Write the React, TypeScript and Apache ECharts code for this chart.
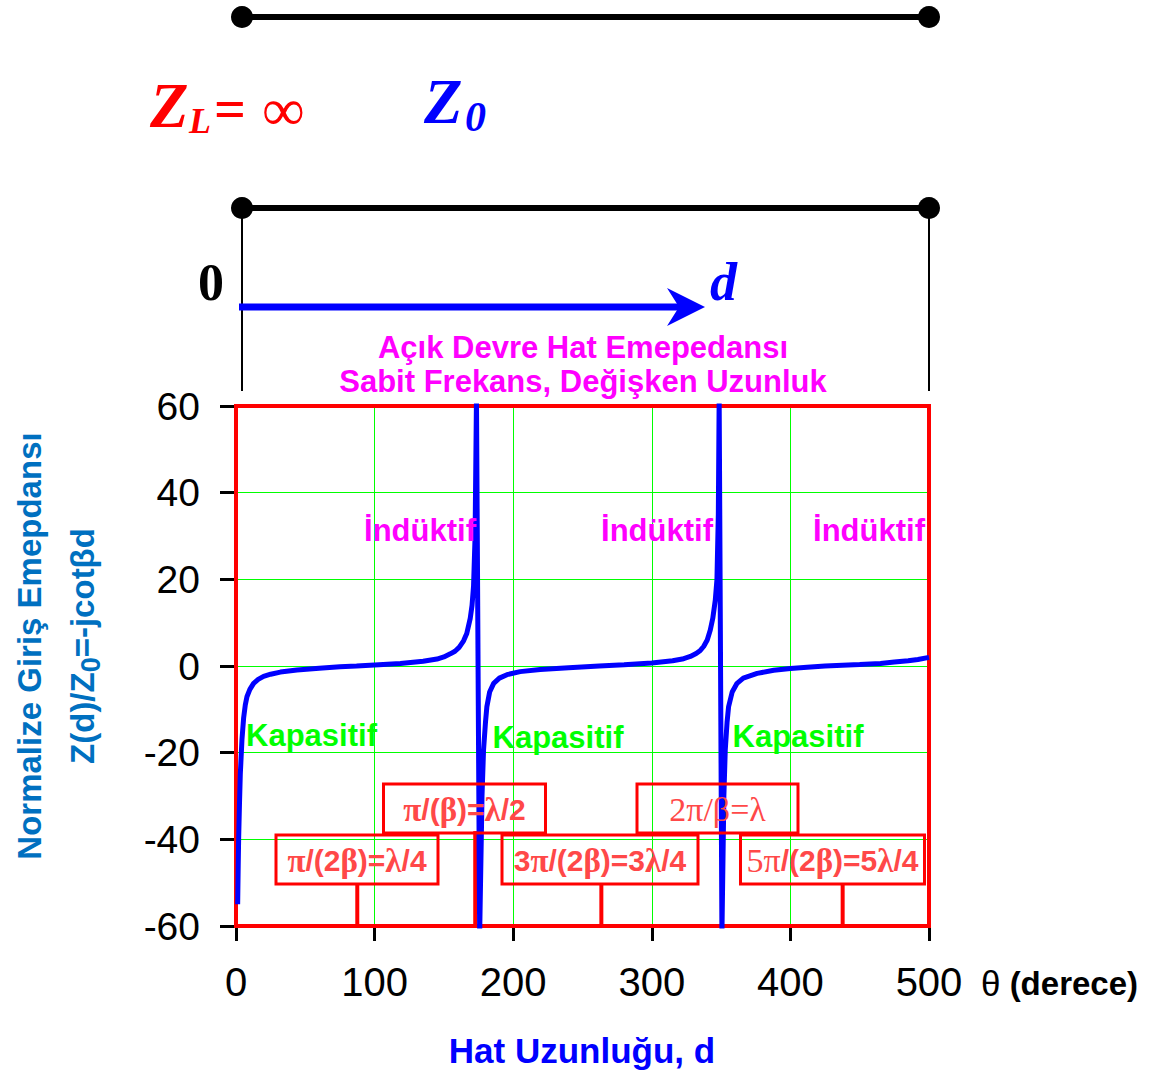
import React, { useEffect, useRef } from "react";
import * as echarts from "echarts";

// ---- data ----
const curveTheta = [
  1.2, 1.6, 1.9, 2.5, 3.1, 4.3, 5.5, 6.7, 7.9, 10, 12.7, 16, 19.9, 25, 32, 44, 60, 75, 87, 100,
  118.6, 135, 145, 150, 154.6, 158, 161, 164.2, 166.5, 169, 170.3, 171.4, 172.5, 173.5,
  175.8, 177.5, 178.6, 180, 181, 183, 185.9, 190, 195.5, 205, 219.5, 240, 262, 280, 300, 315,
  322, 327.8, 332, 335, 337.4, 340, 342.2, 344, 345.8, 347, 348, 348.6,
  350.6, 352, 353, 354.3, 355.4, 358, 361.5, 366, 376, 388, 400, 412, 425, 450, 465, 475, 485,
  492, 500,
];
const curveImpedance = [
  -55, -46, -40, -32, -25, -17, -12, -9, -7.1, -5.4, -4, -3.1, -2.4, -1.9, -1.4, -0.9, -0.5, -0.2, 0, 0.25,
  0.6, 1.1, 1.6, 2.1, 2.8, 3.4, 4.3, 5.8, 7.5, 11, 14, 18.5, 30, 62,
  -62, -30, -19.4, -13, -9.4, -6, -4, -2.8, -2, -1.3, -0.8, -0.4, 0, 0.3, 0.7, 1.2,
  1.6, 2.2, 2.9, 3.6, 4.5, 6, 8.3, 11, 15.2, 19.9, 35, 62,
  -62, -30, -19.4, -13, -9.4, -6, -4, -2.8, -1.7, -1, -0.6, -0.3, 0, 0.35, 0.6, 0.9, 1.2,
  1.5, 2.0,
];
// vertical marker lines at quarter-wavelength points (theta, top value)
const markerTheta = [87.5, 172.6, 263.6, 350.6, 437.7];
const markerTop = [-50.3, -38.1, -50.3, -40, -50.3];

const xMin = 0, xMax = 500, xStep = 100;
const yMin = -60, yMax = 60, yStep = 20;

const SANS = "'Liberation Sans', Arial, sans-serif";
const SANS_N = "'Liberation Sans Narrow', 'Arial Narrow', 'Liberation Sans', sans-serif";
const SERIF = "'Liberation Serif', 'Times New Roman', serif";
const BOXRED = "#ff4848";

export default function App() {
  const ref = useRef<HTMLDivElement>(null);
  useEffect(() => {
    document.body.style.margin = "0";
    const chart = echarts.init(ref.current!, null, { renderer: "svg" });

    const curveData = curveTheta.map((t, i) => [t, curveImpedance[i]]);
    const markerSeries = markerTheta.map((t, i) => ({
      type: "line",
      data: [
        [t, yMin],
        [t, markerTop[i]],
      ],
      symbol: "none",
      lineStyle: { color: "#ff0000", width: 4 },
      z: 3,
      silent: true,
    }));

    const richBox = {
      g: { fontFamily: SERIF, fontWeight: "bold", fontSize: 33, fill: BOXRED },
      s: { fontFamily: SANS, fontWeight: "bold", fontSize: 30, fill: BOXRED },
      r: { fontFamily: SERIF, fontWeight: "normal", fontSize: 34, fill: BOXRED },
    };
    const boxes = [
      { x: 276, y: 835, w: 162, h: 49, text: "{g|π}{s|/(2}{g|β}{s|)=}{g|λ}{s|/4}" },
      { x: 383.5, y: 784, w: 162, h: 49, text: "{g|π}{s|/(}{g|β}{s|)=}{g|λ}{s|/2}" },
      { x: 502, y: 835, w: 196, h: 49, text: "{s|3}{g|π}{s|/(2}{g|β}{s|)=3}{g|λ}{s|/4}" },
      { x: 637, y: 784, w: 161, h: 49, text: "{r|2π/β=λ}" },
      { x: 740.5, y: 835, w: 184, h: 49, text: "{r|5π}{s|/(2}{g|β}{s|)=5}{g|λ}{s|/4}" },
    ];
    const boxGraphics: any[] = [];
    boxes.forEach((b) => {
      boxGraphics.push({
        type: "rect",
        z: 100,
        shape: { x: b.x, y: b.y, width: b.w, height: b.h },
        style: { fill: "none", stroke: "#ff0000", lineWidth: 3 },
      });
      boxGraphics.push({
        type: "text",
        z: 101,
        x: b.x + b.w / 2,
        y: b.y + b.h / 2 + 1,
        style: { text: b.text, align: "center", verticalAlign: "middle", rich: richBox },
      });
    });

    const regionText = (t: string, x: number, y: number, color: string) => ({
      type: "text",
      z: 101,
      x,
      y,
      style: {
        text: t,
        fill: color,
        fontFamily: SANS,
        fontWeight: "bold",
        fontSize: 31,
        align: "center",
        verticalAlign: "middle",
      },
    });

    const topText = (
      t: string,
      x: number,
      y: number,
      color: string,
      size: number,
      italic: boolean,
      bold: boolean
    ) => ({
      type: "text",
      z: 101,
      x,
      y,
      style: {
        text: t,
        fill: color,
        fontFamily: SERIF,
        fontSize: size,
        fontStyle: italic ? "italic" : "normal",
        fontWeight: bold ? "bold" : "normal",
        align: "left",
        verticalAlign: "middle",
      },
    });

    const option: any = {
      animation: false,
      backgroundColor: "#ffffff",
      title: [
        {
          text: "Açık Devre Hat Emepedansı\nSabit Frekans, Değişken Uzunluk",
          left: 583,
          top: 330,
          textAlign: "center",
          padding: 0,
          textStyle: {
            color: "#ff00ff",
            fontSize: 31,
            fontWeight: "bold",
            fontFamily: SANS,
            lineHeight: 34,
          },
        },
        {
          text: "Hat Uzunluğu, d",
          left: 582,
          top: 1032,
          textAlign: "center",
          padding: 0,
          textStyle: {
            color: "#0000ff",
            fontSize: 35,
            fontWeight: "bold",
            fontFamily: SANS,
            lineHeight: 36,
          },
        },
      ],
      grid: {
        left: 236,
        top: 406,
        width: 693,
        height: 520,
        show: true,
        containLabel: false,
        outerBoundsMode: "none",
        borderColor: "#ff0000",
        borderWidth: 4,
        backgroundColor: "transparent",
        z: 4,
      },
      xAxis: {
        type: "value",
        min: xMin,
        max: xMax,
        interval: xStep,
        axisLine: { show: false, onZero: false },
        axisTick: { show: true, inside: false, length: 15, lineStyle: { color: "#000", width: 3 } },
        axisLabel: { margin: 36, fontSize: 40, color: "#000", fontFamily: SANS_N },
        splitLine: { show: true, lineStyle: { color: "#00ff00", width: 1 } },
        name: "{t|θ} {b|(derece)}",
        nameLocation: "end",
        nameGap: 52,
        nameTextStyle: {
          color: "#000",
          fontSize: 33,
          fontFamily: SANS,
          verticalAlign: "top",
          padding: [40, 0, 0, 0],
          rich: {
            t: { fontSize: 35, fontWeight: "normal", fontFamily: SANS, color: "#000" },
            b: { fontSize: 33, fontWeight: "bold", fontFamily: SANS, color: "#000" },
          },
        },
      },
      yAxis: {
        type: "value",
        min: yMin,
        max: yMax,
        interval: yStep,
        axisLine: { show: false, onZero: false },
        axisTick: { show: true, inside: false, length: 16, lineStyle: { color: "#000", width: 3 } },
        axisLabel: { margin: 36, fontSize: 39, color: "#000", fontFamily: SANS },
        splitLine: { show: true, lineStyle: { color: "#00ff00", width: 1 } },
        name: "Normalize Giriş Emepdansı\nZ(d)/Z{sub|0}=-jcotβd",
        nameLocation: "middle",
        nameRotate: 90,
        nameGap: 127,
        nameTextStyle: {
          color: "#0070c0",
          fontSize: 33,
          fontWeight: "bold",
          fontFamily: SANS,
          lineHeight: 53,
          padding: [0, 0, 0, 40],
          rich: {
            sub: {
              color: "#0070c0",
              fontSize: 27,
              fontWeight: "bold",
              fontFamily: SANS,
              padding: [16, 0, 0, 0],
            },
          },
        },
      },
      series: [
        ...markerSeries,
        {
          type: "line",
          data: curveData,
          symbol: "none",
          clip: true,
          lineStyle: { color: "#0000ff", width: 5 },
          z: 5,
          silent: true,
        },
      ],
      graphic: [
        // transmission line sketch
        { type: "line", z: 100, shape: { x1: 242, y1: 17, x2: 929, y2: 17 }, style: { stroke: "#000", lineWidth: 6 } },
        { type: "line", z: 100, shape: { x1: 242, y1: 208, x2: 929, y2: 208 }, style: { stroke: "#000", lineWidth: 6 } },
        { type: "circle", z: 100, shape: { cx: 242, cy: 17, r: 11 }, style: { fill: "#000" } },
        { type: "circle", z: 100, shape: { cx: 929, cy: 17, r: 11 }, style: { fill: "#000" } },
        { type: "circle", z: 100, shape: { cx: 242, cy: 208, r: 11 }, style: { fill: "#000" } },
        { type: "circle", z: 100, shape: { cx: 929, cy: 208, r: 11 }, style: { fill: "#000" } },
        { type: "line", z: 100, shape: { x1: 242, y1: 208, x2: 242, y2: 391 }, style: { stroke: "#000", lineWidth: 2 } },
        { type: "line", z: 100, shape: { x1: 929, y1: 208, x2: 929, y2: 391 }, style: { stroke: "#000", lineWidth: 2 } },
        { type: "line", z: 100, shape: { x1: 239, y1: 307, x2: 680, y2: 307 }, style: { stroke: "#0000ff", lineWidth: 7 } },
        {
          type: "polygon",
          z: 100,
          shape: { points: [[667, 288], [705, 307], [667, 326], [679, 307]] },
          style: { fill: "#0000ff" },
        },
        topText("Z", 150, 106, "#ff0000", 63, true, true),
        topText("L", 189, 121, "#ff0000", 36, true, true),
        topText("=", 214, 109, "#ff0000", 56, false, true),
        topText("∞", 262, 110, "#ff0000", 60, false, false),
        topText("Z", 424, 102, "#0000ff", 63, true, true),
        topText("0", 465, 117, "#0000ff", 42, true, true),
        topText("0", 198, 282, "#000000", 52, false, true),
        topText("d", 710, 282, "#0000ff", 54, true, true),
        // region labels
        regionText("İndüktif", 420, 530, "#ff00ff"),
        regionText("İndüktif", 657, 530, "#ff00ff"),
        regionText("İndüktif", 869, 530, "#ff00ff"),
        regionText("Kapasitif", 311.5, 735, "#00ff00"),
        regionText("Kapasitif", 558, 737, "#00ff00"),
        regionText("Kapasitif", 798, 736, "#00ff00"),
        ...boxGraphics,
      ],
    };
    chart.setOption(option);
    return () => chart.dispose();
  }, []);
  return <div ref={ref} style={{ width: 1156, height: 1074 }} />;
}
